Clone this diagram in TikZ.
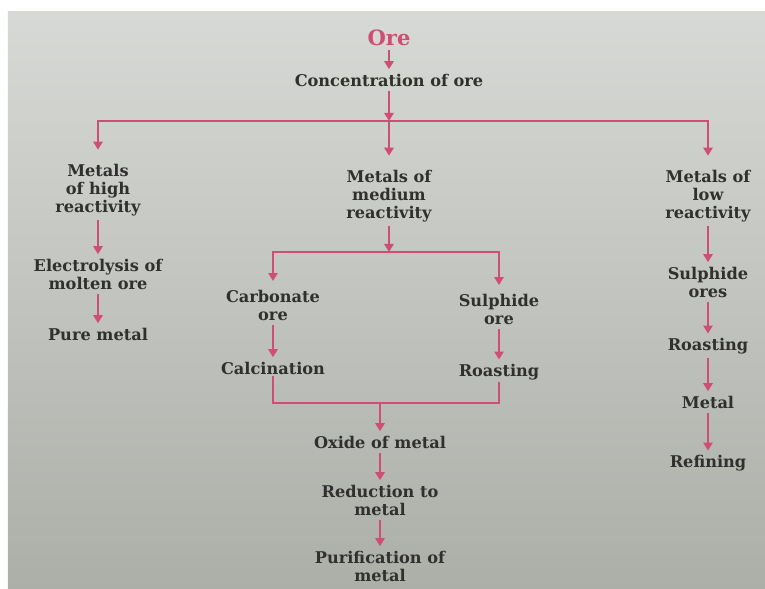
\documentclass[tikz,border=0pt]{standalone}
\usepackage{fontspec}
\setmainfont{DejaVu Serif}
\usetikzlibrary{arrows.meta, positioning}
\definecolor{orePink}{RGB}{206,78,118}
\definecolor{inkGray}{RGB}{48,48,46}
\definecolor{pageTop}{RGB}{214,217,213}
\definecolor{pageBottom}{RGB}{172,174,168}
\tikzset{
    stepbox/.style={
        rectangle,
        align=center,
        inner sep=1pt,
        text=inkGray,
        font=\fontsize{11.5}{12.8}\selectfont\bfseries
    },
    orehead/.style={
        rectangle,
        inner sep=1pt,
        text=orePink,
        font=\fontsize{15}{17}\selectfont\bfseries
    },
    flowline/.style={draw=orePink, line width=1.5pt},
    flowarrow/.style={flowline, -{Triangle[length=2mm, width=2.3mm]}, shorten >=2pt, shorten <=2pt}
}

\begin{document}
\begin{tikzpicture}[on grid]
        \useasboundingbox (0,0) rectangle (19.125,-14.725);
        \shade[top color=pageTop, bottom color=pageBottom] (0.2,-0.3) rectangle (19.125,-14.725);

        \node[orehead] (ore) at (9.725,-0.95) {Ore};
        \node[stepbox, below=1.05cm of ore] (conc) {Concentration of ore};
        \coordinate[below=1.025cm of conc] (split);

        % three branches
        \node[stepbox, below=2.9cm of conc] (medium) {Metals of\\medium\\reactivity};
        \node[stepbox, above left=0.15cm and 7.275cm of medium] (high) {Metals\\of high\\reactivity};
        \node[stepbox, right=7.975cm of medium] (low) {Metals of\\low\\reactivity};

        \node[stepbox, below=2.1cm of high] (electro) {Electrolysis of\\molten ore};
        \node[stepbox, below=1.5cm of electro] (pure) {Pure metal};

        \coordinate[below=1.4cm of medium] (msplit);
        \node[stepbox, below left=2.725cm and 2.9cm of medium] (carb) {Carbonate\\ore};
        \node[stepbox, below right=2.825cm and 2.75cm of medium] (sulph) {Sulphide\\ore};
        \node[stepbox, below=1.575cm of carb] (calc) {Calcination};
        \node[stepbox, below=1.575cm of sulph] (roast) {Roasting};
        \node[stepbox, below right=1.85cm and 2.675cm of calc] (oxide) {Oxide of metal};
        \coordinate[above=0.975cm of oxide] (merge);
        \node[stepbox, below=1.45cm of oxide] (reduce) {Reduction to\\metal};
        \node[stepbox, below=1.65cm of reduce] (purify) {Purification of\\metal};

        \node[stepbox, below=2.15cm of low] (lsulph) {Sulphide\\ores};
        \node[stepbox, below=1.6cm of lsulph] (lroast) {Roasting};
        \node[stepbox, below=1.4cm of lroast] (metal) {Metal};
        \node[stepbox, below=1.525cm of metal] (refine) {Refining};

        \draw[flowarrow] (ore) -- (conc);
        \draw[flowarrow, shorten >=0pt] (conc) -- (split);
        \draw[flowarrow, shorten <=0pt, shorten >=9pt] (split) -- (medium);
        \draw[flowarrow, shorten <=0pt, shorten >=9pt] (split) -| (high);
        \draw[flowarrow, shorten <=0pt, shorten >=9pt] (split) -| (low);

        \draw[flowarrow] (high) -- (electro);
        \draw[flowarrow] (electro) -- (pure);

        \draw[flowarrow, shorten >=0pt] (medium) -- (msplit);
        \draw[flowarrow, shorten <=0pt, shorten >=5pt] (msplit) -| (carb);
        \draw[flowarrow, shorten <=0pt, shorten >=5pt] (msplit) -| (sulph);
        \draw[flowarrow] (carb) -- (calc);
        \draw[flowarrow] (sulph) -- (roast);
        \draw[flowline] (calc) |- (merge) -| (roast);
        \draw[flowarrow, shorten <=0pt] (merge) -- (oxide);
        \draw[flowarrow] (oxide) -- (reduce);
        \draw[flowarrow] (reduce) -- (purify);

        \draw[flowarrow] (low) -- (lsulph);
        \draw[flowarrow] (lsulph) -- (lroast);
        \draw[flowarrow] (lroast) -- (metal);
        \draw[flowarrow] (metal) -- (refine);
\end{tikzpicture}
\end{document}
